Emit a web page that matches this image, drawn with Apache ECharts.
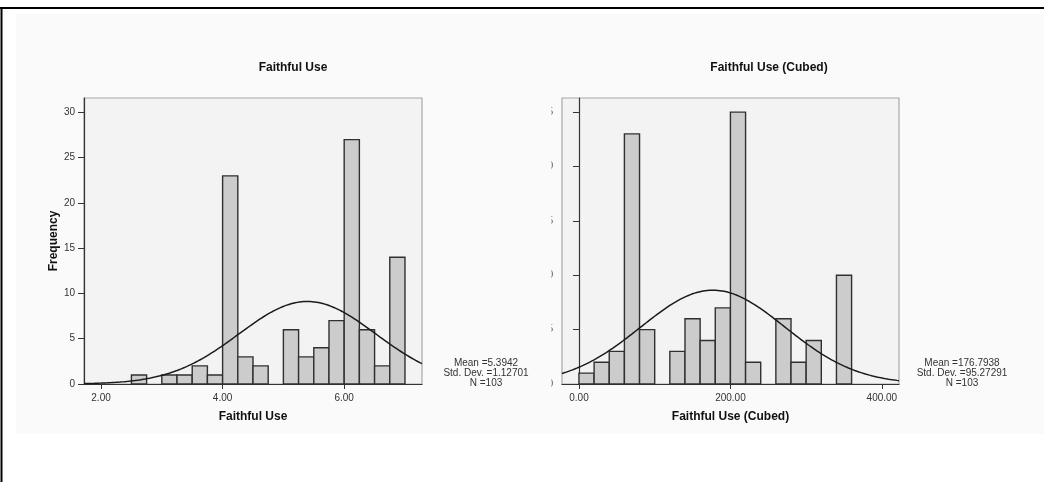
<!DOCTYPE html>
<html>
<head>
<meta charset="utf-8">
<script src="https://cdn.jsdelivr.net/npm/echarts@6/dist/echarts.min.js"></script>
<style>
html,body{margin:0;padding:0;background:#fff;}
#c{width:1044px;height:482px;}
</style>
</head>
<body>
<div id="c"></div>
<script>
// ---------- data ----------
// Left histogram: Faithful Use (bin width 0.25)
const leftBinStarts = [2.5, 2.75, 3.0, 3.25, 3.5, 3.75, 4.0, 4.25, 4.5, 4.75, 5.0, 5.25, 5.5, 5.75, 6.0, 6.25, 6.5, 6.75];
const leftCounts    = [1,   0,    1,   1,    2,   1,    23,  3,    2,   0,    6,   3,    4,   7,    27,  6,    2,   14];
const leftBinWidth = 0.25;
const leftXTicks = [2, 4, 6];
const leftYTicks = [0, 5, 10, 15, 20, 25, 30];
const leftMean = 5.3942, leftSD = 1.12701, leftN = 103;
const leftStats = ['Mean =5.3942', 'Std. Dev. =1.12701', 'N =103'];

// Right histogram: Faithful Use (Cubed) (bin width 20)
const rightBinStarts = [0, 20, 40, 60, 80, 100, 120, 140, 160, 180, 200, 220, 240, 260, 280, 300, 320, 340];
const rightCounts    = [1, 2,  3,  23, 5,  0,   3,   6,   4,   7,   25,  2,   0,   6,   2,   4,   0,   10];
const rightBinWidth = 20;
const rightXTicks = [0, 200, 400];
const rightYTicks = [0, 5, 10, 15, 20, 25];
const rightMean = 176.7938, rightSD = 95.27291, rightN = 103;
const rightStats = ['Mean =176.7938', 'Std. Dev. =95.27291', 'N =103'];

const titles = ['Faithful Use', 'Faithful Use (Cubed)'];
const xNames = ['Faithful Use', 'Faithful Use (Cubed)'];
const yName = 'Frequency';

// ---------- helpers ----------
function binData(starts, counts, w) {
  return starts.map((s, i) => [s, counts[i], s + w]);
}
// fitted normal curve defined by the displayed Mean / Std. Dev. / N
function normalCurve(mean, sd, n, w, lo, hi) {
  const pts = [];
  const steps = 160;
  for (let i = 0; i <= steps; i++) {
    const x = lo + (hi - lo) * i / steps;
    const z = (x - mean) / sd;
    pts.push([x, n * w * Math.exp(-0.5 * z * z) / (sd * Math.sqrt(2 * Math.PI))]);
  }
  return pts;
}
function renderBar(params, api) {
  const h = api.value(1);
  if (!h) return null;
  const p1 = api.coord([api.value(0), h]);
  const p2 = api.coord([api.value(2), 0]);
  return {
    type: 'rect',
    shape: { x: p1[0], y: p1[1], width: p2[0] - p1[0], height: p2[1] - p1[1] },
    style: { fill: '#cccccc', stroke: '#303030', lineWidth: 1.4 }
  };
}

const FONT = 'Liberation Sans, Arial, sans-serif';
const leftX = [1.72, 7.28], rightX = [-22.4, 422.6];

const axisLineStyle = { show: true, lineStyle: { color: '#333', width: 1.2 } };

function xAxis(idx, ext, ticks, name) {
  return {
    type: 'value', gridIndex: idx, min: ext[0], max: ext[1],
    splitLine: { show: false },
    axisLine: axisLineStyle,
    axisTick: { show: true, length: 5, customValues: ticks, lineStyle: { color: '#333' } },
    axisLabel: { customValues: ticks, formatter: v => v.toFixed(2), fontSize: 10, color: '#333', fontFamily: FONT, margin: 9 },
    name: name, nameLocation: 'middle', nameGap: 27,
    nameTextStyle: { fontSize: 12, fontWeight: 'bold', color: '#111', fontFamily: FONT, verticalAlign: 'top' }
  };
}
function yAxis(idx, max, ticks, name) {
  return {
    type: 'value', gridIndex: idx, min: 0, max: max,
    splitLine: { show: false },
    axisLine: axisLineStyle,
    axisTick: { show: true, length: 6, customValues: ticks, lineStyle: { color: '#333' } },
    axisLabel: { customValues: ticks, fontSize: 10, color: '#333', fontFamily: FONT, margin: 9 },
    name: name || '', nameLocation: 'middle', nameGap: 24,
    nameTextStyle: { fontSize: 12, fontWeight: 'bold', color: '#111', fontFamily: FONT }
  };
}

function statsText(lines, cx) {
  return lines.map((t, i) => ({
    type: 'text', x: cx, y: 358 + i * 10, z: 120,
    style: { text: t, fontSize: 10, fill: '#333', font: '10px ' + FONT, textAlign: 'center' }
  }));
}

const chart = echarts.init(document.getElementById('c'), null, { renderer: 'canvas' });
chart.setOption({
  animation: false,
  backgroundColor: '#ffffff',
  title: [
    { text: titles[0], left: 288, top: 57, textAlign: 'center', textStyle: { fontSize: 12, fontWeight: 'bold', color: '#111', fontFamily: FONT } },
    { text: titles[1], left: 764, top: 57, textAlign: 'center', textStyle: { fontSize: 12, fontWeight: 'bold', color: '#111', fontFamily: FONT } }
  ],
  grid: [
    { left: 84, right: 622, top: 98, bottom: 98, show: true, backgroundColor: '#f3f3f3', borderColor: '#a8a8a8', borderWidth: 1.2 },
    { left: 562, right: 145, top: 98, bottom: 98, show: true, backgroundColor: '#f3f3f3', borderColor: '#a8a8a8', borderWidth: 1.2 }
  ],
  xAxis: [
    xAxis(0, leftX, leftXTicks, xNames[0]),
    xAxis(1, rightX, rightXTicks, xNames[1])
  ],
  yAxis: [
    yAxis(0, 31.6, leftYTicks, yName),
    yAxis(1, 26.3, rightYTicks, '')
  ],
  series: [
    { type: 'custom', xAxisIndex: 0, yAxisIndex: 0, renderItem: renderBar, encode: { x: [0, 2], y: 1 }, data: binData(leftBinStarts, leftCounts, leftBinWidth), z: 2 },
    { type: 'line', xAxisIndex: 0, yAxisIndex: 0, showSymbol: false, symbol: 'none', lineStyle: { color: '#1a1a1a', width: 1.5 }, data: normalCurve(leftMean, leftSD, leftN, leftBinWidth, leftX[0], leftX[1]), z: 3 },
    { type: 'custom', xAxisIndex: 1, yAxisIndex: 1, renderItem: renderBar, encode: { x: [0, 2], y: 1 }, data: binData(rightBinStarts, rightCounts, rightBinWidth), z: 2 },
    { type: 'line', xAxisIndex: 1, yAxisIndex: 1, showSymbol: false, symbol: 'none', lineStyle: { color: '#1a1a1a', width: 1.5 }, data: normalCurve(rightMean, rightSD, rightN, rightBinWidth, rightX[0], rightX[1]), z: 3 }
  ],
  graphic: [
    { type: 'rect', z: -100, silent: true, shape: { x: 16, y: 14, width: 1028, height: 420 }, style: { fill: '#fafafa' } },
    { type: 'line', z: 100, silent: true, shape: { x1: 0, y1: 8, x2: 1044, y2: 8 }, style: { stroke: '#000', lineWidth: 2 } },
    { type: 'line', z: 100, silent: true, shape: { x1: 1.5, y1: 8, x2: 1.5, y2: 482 }, style: { stroke: '#000', lineWidth: 2 } },
    // the reference crops the right chart's tick labels to a thin sliver
    { type: 'rect', z: 100, silent: true, shape: { x: 532, y: 100, width: 19.5, height: 290 }, style: { fill: '#fafafa' } }
  ].concat(statsText(leftStats, 486), statsText(rightStats, 962))
});
</script>
</body>
</html>
